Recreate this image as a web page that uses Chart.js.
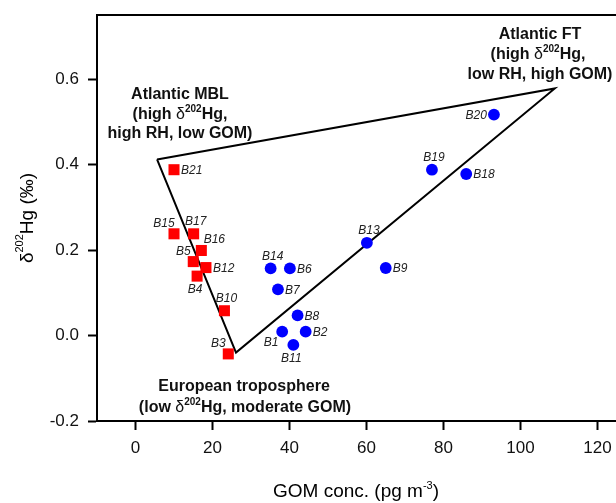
<!DOCTYPE html>
<html>
<head>
<meta charset="utf-8">
<script src="https://cdn.jsdelivr.net/npm/chart.js@4.4.0/dist/chart.umd.min.js"></script>
<style>
html, body { margin: 0; padding: 0; background: #fff; overflow: hidden; }
#wrap { width: 650px; height: 503px; }
</style>
</head>
<body>
<div id="wrap"><canvas id="mycanvas" width="650" height="503"></canvas></div>
<script>
// samples, GOM conc. (pg m-3) and d202Hg (permil)
var redNames = ["B21", "B15", "B17", "B16", "B5", "B12", "B4", "B10", "B3"];
var redGom   = [10.0, 10.0, 15.1, 17.1, 15.0, 18.3, 16.0, 23.1, 24.1];
var redD202  = [0.388, 0.238, 0.238, 0.199, 0.173, 0.159, 0.139, 0.058, -0.043];
var redLabelPos = ["r", "tl", "t", "tr", "tl", "r", "b", "t", "tl"];

var blueNames = ["B14", "B6", "B7", "B8", "B1", "B2", "B11", "B13", "B9", "B20", "B19", "B18"];
var blueGom   = [35.1, 40.1, 37.0, 42.1, 38.1, 44.2, 41.0, 60.1, 65.0, 93.1, 77.0, 85.9];
var blueD202  = [0.157, 0.157, 0.108, 0.047, 0.009, 0.009, -0.022, 0.217, 0.158, 0.517, 0.388, 0.378];
var blueLabelPos = ["t", "r", "r", "r", "bl", "r", "b", "t", "r", "l", "t", "r"];

// end-member triangle: Atlantic MBL, Atlantic FT, European troposphere (closed)
var triGom  = [5.6, 108.9, 26.1, 5.6];
var triD202 = [0.412, 0.578, -0.040, 0.412];

var xTicks = [0, 20, 40, 60, 80, 100, 120];
var yTicks = [-0.2, 0, 0.2, 0.4, 0.6];

var FONT = "'Liberation Sans', Arial, sans-serif";

function toPoints(xs, ys) {
  var out = [];
  for (var i = 0; i < xs.length; i++) {
    out.push({ x: xs[i], y: ys[i] });
  }
  return out;
}

// draws a run of text pieces (for superscripts) centered on cx
function drawParts(ctx, parts, cx, y) {
  var total = 0;
  parts.forEach(function (p) {
    ctx.font = p.font;
    p.w = ctx.measureText(p.t).width;
    total += p.w;
  });
  var x = cx - total / 2;
  parts.forEach(function (p) {
    ctx.font = p.font;
    ctx.fillText(p.t, x, y + (p.dy || 0));
    x += p.w;
  });
}

var labelOffsets = {
  r:  { dx: 7,   dy: 1,    align: "left" },
  l:  { dx: -7,  dy: 1,    align: "right" },
  t:  { dx: 2,   dy: -12,  align: "center" },
  b:  { dx: -2,  dy: 13.5, align: "center" },
  tl: { dx: -10, dy: -10,  align: "center" },
  tr: { dx: 13,  dy: -11,  align: "center" },
  bl: { dx: -11, dy: 11,   align: "center" }
};

var pointLabels = {
  id: "pointLabels",
  afterDatasetsDraw: function (chart) {
    var ctx = chart.ctx;
    var sets = [[0, redNames, redLabelPos], [1, blueNames, blueLabelPos]];
    ctx.save();
    ctx.fillStyle = "#222";
    ctx.font = "italic 12px " + FONT;
    ctx.textBaseline = "middle";
    sets.forEach(function (s) {
      var meta = chart.getDatasetMeta(s[0]);
      meta.data.forEach(function (el, i) {
        var o = labelOffsets[s[2][i]];
        ctx.textAlign = o.align;
        ctx.fillText(s[1][i], el.x + o.dx, el.y + o.dy);
      });
    });
    ctx.restore();
  }
};

var frameAndText = {
  id: "frameAndText",
  afterDraw: function (chart) {
    var ctx = chart.ctx;
    var a = chart.chartArea;
    ctx.save();
    // top frame line
    ctx.strokeStyle = "#000";
    ctx.lineWidth = 2;
    ctx.beginPath();
    ctx.moveTo(a.left - 1, a.top);
    ctx.lineTo(a.right, a.top);
    ctx.stroke();

    ctx.fillStyle = "#111";
    ctx.textAlign = "left";
    ctx.textBaseline = "alphabetic";
    var b16 = "bold 16px " + FONT;
    var r16 = "16px " + FONT;
    var sup = "bold 10px " + FONT;

    // Atlantic MBL
    drawParts(ctx, [{ t: "Atlantic MBL", font: b16 }], 180, 99);
    drawParts(ctx, [{ t: "(high ", font: b16 }, { t: "\u03b4", font: r16 }, { t: "202", font: sup, dy: -7 }, { t: "Hg,", font: b16 }], 180, 118.5);
    drawParts(ctx, [{ t: "high RH, low GOM)", font: b16 }], 180, 137.5);

    // Atlantic FT
    drawParts(ctx, [{ t: "Atlantic FT", font: b16 }], 540, 39);
    drawParts(ctx, [{ t: "(high ", font: b16 }, { t: "\u03b4", font: r16 }, { t: "202", font: sup, dy: -7 }, { t: "Hg,", font: b16 }], 538, 59);
    drawParts(ctx, [{ t: "low RH, high GOM)", font: b16 }], 540, 79);

    // European troposphere
    drawParts(ctx, [{ t: "European troposphere", font: b16 }], 244, 391);
    drawParts(ctx, [{ t: "(low ", font: b16 }, { t: "\u03b4", font: r16 }, { t: "202", font: sup, dy: -7 }, { t: "Hg, moderate GOM)", font: b16 }], 245, 412);

    // axis titles
    ctx.fillStyle = "#000";
    var r19 = "19px " + FONT;
    var s11 = "11px " + FONT;
    drawParts(ctx, [{ t: "GOM conc. (pg m", font: r19 }, { t: "-3", font: s11, dy: -8 }, { t: ")", font: r19 }], 356, 497);

    ctx.translate(33, 218);
    ctx.rotate(-Math.PI / 2);
    drawParts(ctx, [{ t: "\u03b4", font: r19 }, { t: "202", font: s11, dy: -10 }, { t: "Hg (\u2030)", font: r19 }], 0, 0);
    ctx.restore();
  }
};

var ctx = document.getElementById("mycanvas");

var chart = new Chart(ctx, {
  type: "scatter",
  data: {
    datasets: [
      {
        label: "red",
        data: toPoints(redGom, redD202),
        pointStyle: "rect",
        pointRadius: 7.8,
        pointBackgroundColor: "#ff0000",
        pointBorderColor: "#ff0000",
        pointBorderWidth: 0,
        order: 1
      },
      {
        label: "blue",
        data: toPoints(blueGom, blueD202),
        pointStyle: "circle",
        pointRadius: 5.9,
        pointBackgroundColor: "#0000ff",
        pointBorderColor: "#0000ff",
        pointBorderWidth: 0,
        order: 1
      },
      {
        label: "triangle",
        data: toPoints(triGom, triD202),
        showLine: true,
        fill: false,
        borderColor: "#000",
        borderWidth: 2,
        pointRadius: 0,
        tension: 0,
        order: 3
      }
    ]
  },
  options: {
    responsive: false,
    animation: false,
    devicePixelRatio: 1,
    layout: { padding: { top: 15, right: 14, left: 0, bottom: 0 } },
    plugins: {
      legend: { display: false },
      tooltip: { enabled: false },
      title: { display: false }
    },
    scales: {
      x: {
        type: "linear",
        min: -10,
        max: 130,
        afterBuildTicks: function (scale) {
          scale.ticks = xTicks.map(function (v) { return { value: v }; });
        },
        afterFit: function (scale) { scale.height = 82; },
        border: { display: true, color: "#000", width: 2 },
        grid: { drawOnChartArea: false, drawTicks: true, tickLength: 9, tickColor: "#000", tickWidth: 2 },
        ticks: {
          color: "#111",
          padding: 8,
          maxRotation: 0,
          font: { family: FONT, size: 17 },
          callback: function (v) { return v; }
        }
      },
      y: {
        type: "linear",
        min: -0.2,
        max: 0.75,
        afterBuildTicks: function (scale) {
          scale.ticks = yTicks.map(function (v) { return { value: v }; });
        },
        afterFit: function (scale) {
          scale.width = 97;
          scale.paddingTop = 0;
          scale.paddingBottom = 0;
        },
        border: { display: true, color: "#000", width: 2 },
        grid: { drawOnChartArea: false, drawTicks: true, tickLength: 9, tickColor: "#000", tickWidth: 2 },
        ticks: {
          color: "#111",
          padding: 9,
          font: { family: FONT, size: 17 },
          callback: function (v) { return v.toFixed(1); }
        }
      }
    }
  },
  plugins: [pointLabels, frameAndText]
});
</script>
</body>
</html>
